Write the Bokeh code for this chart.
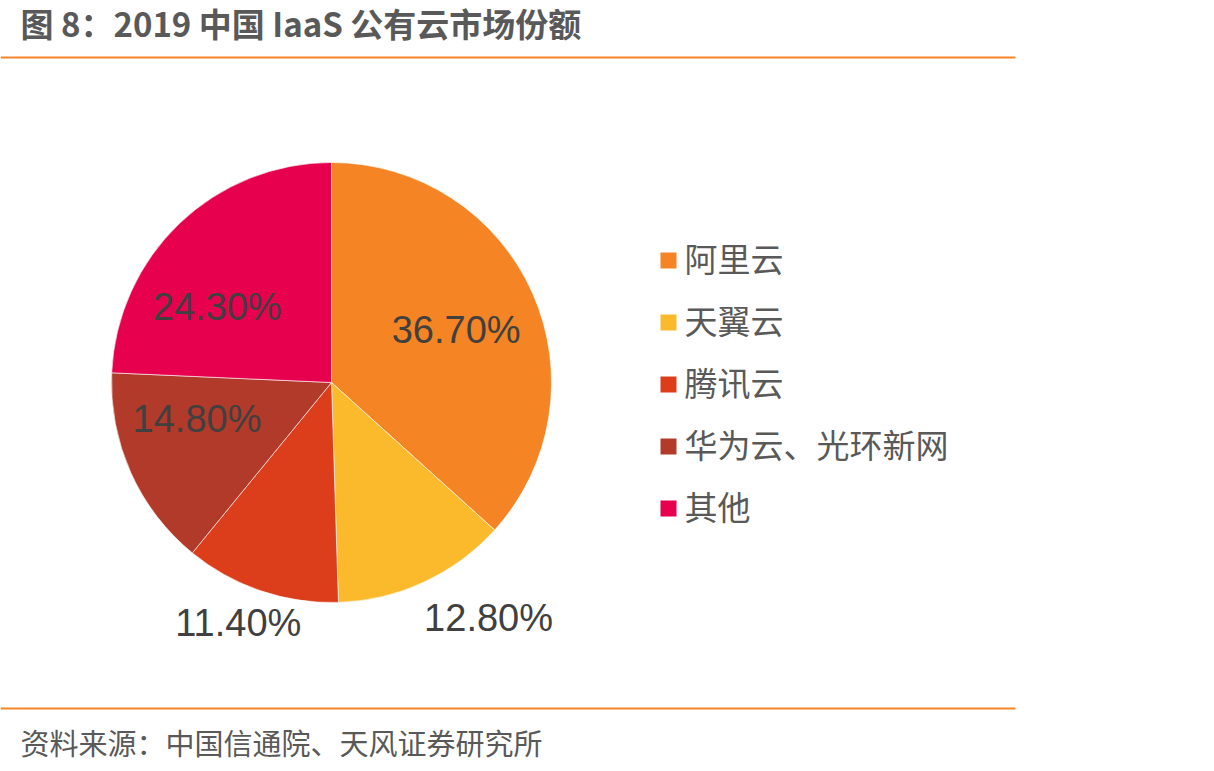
import math
from bokeh.plotting import figure
from bokeh.models import Range1d
from bokeh.core.properties import value
from bokeh.embed import file_html
from bokeh.resources import INLINE

# ---- data ----
categories = ["阿里云", "天翼云", "腾讯云", "华为云、光环新网", "其他"]
shares = [36.7, 12.8, 11.4, 14.8, 24.3]
labels = ["36.70%", "12.80%", "11.40%", "14.80%", "24.30%"]
colors = ["#F48424", "#FBBA2C", "#DC3D1A", "#B13A2A", "#E6004E"]

title_text = "图 8：2019 中国 IaaS 公有云市场份额"
source_text = "资料来源：中国信通院、天风证券研究所"

W, H = 1214, 771
CJK = "Noto Sans CJK SC"
GRAY = "#595959"
ORANGE = "#F5862A"

p = figure(width=W, height=H, x_range=Range1d(0, W), y_range=Range1d(0, H),
           output_backend="svg", toolbar_location=None,
           x_axis_location=None, y_axis_location=None, min_border=0)
p.grid.visible = False
p.outline_line_color = None
p.background_fill_color = "white"
p.border_fill_color = "white"

def Y(y):
    return H - y

# title and rules
p.text(x=[20], y=[Y(22)], text=[title_text], text_font=value(CJK),
       text_font_size="33px", text_font_style="bold", text_color=GRAY,
       text_baseline="middle", text_align="left")
p.segment(x0=[0], y0=[Y(57)], x1=[1015], y1=[Y(57)], line_color=ORANGE, line_width=2)
p.segment(x0=[0], y0=[Y(708)], x1=[1015], y1=[Y(708)], line_color=ORANGE, line_width=2)
p.text(x=[20], y=[Y(741)], text=[source_text], text_font=value(CJK),
       text_font_size="29px", text_color=GRAY,
       text_baseline="middle", text_align="left")

# pie
cx, cy, R = 331, Y(382), 220
total = sum(shares)
cum = 0.0
starts, ends, mids = [], [], []
for s in shares:
    a0 = math.pi / 2 - 2 * math.pi * cum / total
    cum += s
    a1 = math.pi / 2 - 2 * math.pi * cum / total
    starts.append(a0)
    ends.append(a1)
    mids.append((a0 + a1) / 2)

p.wedge(x=[cx] * len(shares), y=[cy] * len(shares), radius=R,
        start_angle=starts, end_angle=ends, direction="clock",
        fill_color=colors, line_color="white", line_width=0.6)

# data labels: radius factor and pixel nudges (style only)
rfac = [0.62, 1.18, 1.15, 0.62, 0.62]
nudge = [(0, -3), (48, 0), (-12, -1), (-10, 19), (-20, -23)]
for m, lab, rf, (dx, dy) in zip(mids, labels, rfac, nudge):
    lx = cx + R * rf * math.cos(m) + dx
    ly = cy + R * rf * math.sin(m) + dy
    p.text(x=[lx], y=[ly], text=[lab], text_font=value("Liberation Sans"),
           text_font_size="38px", text_color="#404040",
           text_align="center", text_baseline="middle")

# legend
leg_x, leg_y0, leg_dy = 668, 260, 62
for i, (cat, col) in enumerate(zip(categories, colors)):
    yy = Y(leg_y0 + i * leg_dy)
    p.rect(x=[leg_x], y=[yy], width=16, height=16, fill_color=col, line_color=None)
    p.text(x=[684], y=[yy + 3], text=[cat], text_font=value(CJK),
           text_font_size="33px", text_color=GRAY,
           text_align="left", text_baseline="middle")

open("out.html", "w").write(file_html(p, INLINE))
